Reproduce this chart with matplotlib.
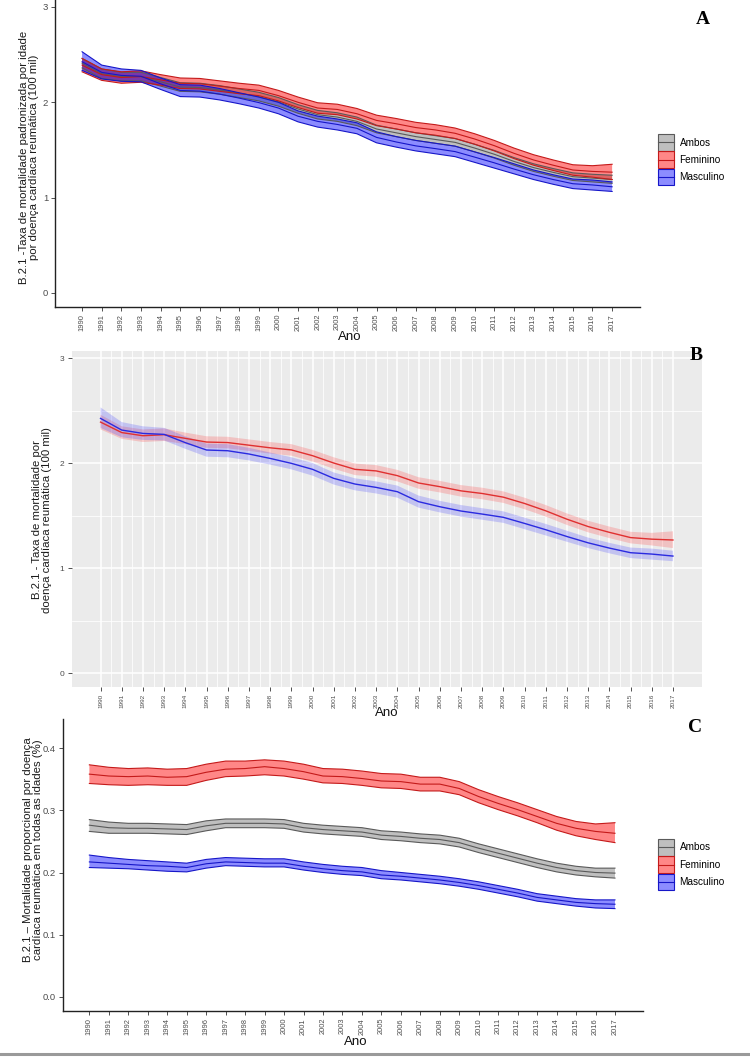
import matplotlib
matplotlib.use("Agg")
import matplotlib.pyplot as plt
from matplotlib.patches import Patch, Rectangle
from matplotlib.lines import Line2D
from matplotlib.legend_handler import HandlerBase

# ---------------- data ----------------
years = list(range(1990, 2018))
year_labels = [str(y) for y in years]
series_names = ["Ambos", "Feminino", "Masculino"]

# Panels A/B: age-standardised rheumatic heart disease mortality (per 100 mil)
amb_rate = [2.41, 2.30, 2.27, 2.27, 2.215, 2.16, 2.155, 2.13, 2.095, 2.06, 2.005, 1.93, 1.87, 1.845,
            1.80, 1.72, 1.68, 1.64, 1.61, 1.58, 1.52, 1.455, 1.38, 1.315, 1.265, 1.22, 1.205, 1.19]
amb_rate_lo = [2.36, 2.25, 2.225, 2.225, 2.17, 2.115, 2.11, 2.085, 2.05, 2.015, 1.96, 1.885, 1.825, 1.80,
               1.755, 1.68, 1.64, 1.60, 1.57, 1.54, 1.48, 1.415, 1.34, 1.275, 1.225, 1.18, 1.165, 1.15]
amb_rate_hi = [2.46, 2.35, 2.315, 2.315, 2.26, 2.205, 2.20, 2.175, 2.14, 2.105, 2.05, 1.975, 1.915, 1.89,
               1.845, 1.76, 1.72, 1.68, 1.65, 1.62, 1.56, 1.495, 1.42, 1.355, 1.305, 1.26, 1.245, 1.235]

fem_rate = [2.39, 2.29, 2.26, 2.27, 2.235, 2.20, 2.195, 2.17, 2.145, 2.125, 2.07, 2.00, 1.94, 1.925,
            1.88, 1.81, 1.775, 1.735, 1.71, 1.675, 1.615, 1.545, 1.465, 1.395, 1.34, 1.29, 1.275, 1.267]
fem_rate_lo = [2.32, 2.23, 2.20, 2.21, 2.18, 2.145, 2.14, 2.115, 2.09, 2.07, 2.015, 1.945, 1.885, 1.87,
               1.825, 1.755, 1.72, 1.68, 1.655, 1.62, 1.56, 1.49, 1.41, 1.34, 1.285, 1.235, 1.215, 1.19]
fem_rate_hi = [2.46, 2.35, 2.32, 2.33, 2.29, 2.255, 2.25, 2.225, 2.20, 2.18, 2.125, 2.055, 1.995, 1.98,
               1.935, 1.865, 1.83, 1.79, 1.765, 1.73, 1.67, 1.60, 1.52, 1.45, 1.395, 1.345, 1.335, 1.35]

mas_rate = [2.425, 2.314, 2.282, 2.273, 2.194, 2.124, 2.117, 2.086, 2.044, 1.997, 1.94, 1.854, 1.80, 1.768,
            1.727, 1.632, 1.584, 1.543, 1.514, 1.483, 1.425, 1.365, 1.30, 1.24, 1.19, 1.146, 1.133, 1.114]
mas_rate_lo = [2.335, 2.245, 2.22, 2.215, 2.135, 2.06, 2.055, 2.025, 1.985, 1.94, 1.88, 1.795, 1.74, 1.71,
               1.67, 1.575, 1.53, 1.49, 1.46, 1.43, 1.37, 1.31, 1.25, 1.19, 1.14, 1.095, 1.08, 1.065]
mas_rate_hi = [2.53, 2.39, 2.35, 2.335, 2.255, 2.185, 2.18, 2.145, 2.10, 2.055, 2.0, 1.91, 1.855, 1.825,
               1.785, 1.69, 1.64, 1.60, 1.57, 1.54, 1.48, 1.42, 1.355, 1.29, 1.24, 1.195, 1.185, 1.165]

# Panel C: proportional mortality (%)
amb_prop = [0.276, 0.272, 0.271, 0.271, 0.270, 0.269, 0.275, 0.279, 0.279, 0.279, 0.278, 0.272, 0.269, 0.267,
            0.265, 0.260, 0.258, 0.255, 0.253, 0.248, 0.239, 0.231, 0.223, 0.215, 0.208, 0.203, 0.200, 0.199]
amb_prop_lo = [0.266, 0.263, 0.263, 0.263, 0.262, 0.261, 0.267, 0.272, 0.272, 0.272, 0.271, 0.265, 0.262, 0.260,
               0.258, 0.253, 0.251, 0.248, 0.246, 0.241, 0.232, 0.224, 0.216, 0.208, 0.201, 0.196, 0.193, 0.191]
amb_prop_hi = [0.285, 0.281, 0.279, 0.279, 0.278, 0.277, 0.283, 0.286, 0.286, 0.286, 0.285, 0.279, 0.276, 0.274,
               0.272, 0.267, 0.265, 0.262, 0.260, 0.255, 0.246, 0.238, 0.230, 0.222, 0.215, 0.210, 0.207, 0.207]

fem_prop = [0.358, 0.355, 0.354, 0.355, 0.353, 0.354, 0.361, 0.366, 0.367, 0.370, 0.367, 0.362, 0.355, 0.354,
            0.351, 0.347, 0.346, 0.342, 0.342, 0.335, 0.322, 0.311, 0.301, 0.290, 0.279, 0.271, 0.266, 0.263]
fem_prop_lo = [0.343, 0.341, 0.340, 0.341, 0.340, 0.340, 0.348, 0.354, 0.355, 0.357, 0.355, 0.350, 0.344, 0.343,
               0.340, 0.336, 0.335, 0.331, 0.331, 0.325, 0.312, 0.301, 0.291, 0.280, 0.268, 0.259, 0.253, 0.248]
fem_prop_hi = [0.373, 0.369, 0.367, 0.368, 0.366, 0.367, 0.374, 0.379, 0.379, 0.381, 0.379, 0.374, 0.367, 0.366,
               0.363, 0.359, 0.358, 0.353, 0.353, 0.346, 0.333, 0.322, 0.312, 0.301, 0.290, 0.282, 0.278, 0.280]

mas_prop = [0.217, 0.215, 0.213, 0.211, 0.210, 0.208, 0.214, 0.217, 0.216, 0.215, 0.215, 0.210, 0.206, 0.203,
            0.201, 0.196, 0.194, 0.191, 0.188, 0.184, 0.179, 0.173, 0.167, 0.160, 0.156, 0.152, 0.150, 0.149]
mas_prop_lo = [0.208, 0.207, 0.206, 0.204, 0.202, 0.201, 0.207, 0.211, 0.210, 0.209, 0.209, 0.204, 0.200, 0.197,
               0.195, 0.190, 0.188, 0.185, 0.182, 0.178, 0.173, 0.167, 0.161, 0.154, 0.150, 0.146, 0.143, 0.142]
mas_prop_hi = [0.228, 0.224, 0.221, 0.219, 0.217, 0.215, 0.221, 0.224, 0.223, 0.222, 0.222, 0.217, 0.213, 0.210,
               0.208, 0.203, 0.200, 0.197, 0.194, 0.190, 0.185, 0.179, 0.173, 0.166, 0.162, 0.158, 0.156, 0.156]

# ---------------- style ----------------
W, H = 750, 1057
NARROW = ["Liberation Sans Narrow", "Liberation Sans", "DejaVu Sans"]
SANS = ["Liberation Sans", "DejaVu Sans"]
SERIF = ["Liberation Serif", "DejaVu Serif"]

line_cols = {"Ambos": "#5a5a5a", "Feminino": "#c41a1a", "Masculino": "#1616c8"}
fill_rgba = {"Ambos": (0.5, 0.5, 0.5, 0.5), "Feminino": (1, 0, 0, 0.47), "Masculino": (0, 0, 1, 0.45)}

fig = plt.figure(figsize=(W / 100, H / 100), dpi=100)


def add_ax(left, top, right, bottom):
    return fig.add_axes([left / W, 1 - bottom / H, (right - left) / W, (bottom - top) / H])


def fx(px):
    return px / W


def fy(py):
    return 1 - py / H


class RibbonKey(HandlerBase):
    """Legend key: filled box with outline and a centre line (like ggplot ribbon+line)."""
    def create_artists(self, legend, orig_handle, xdescent, ydescent, width, height, fontsize, trans):
        fc = orig_handle.get_facecolor()
        ec = orig_handle.get_edgecolor()
        r = Rectangle((-xdescent, -ydescent), width, height, facecolor=fc, edgecolor=ec,
                      lw=0.8, transform=trans)
        ln = Line2D([-xdescent, -xdescent + width], [-ydescent + height / 2] * 2,
                    color=ec, lw=0.8, transform=trans)
        return [r, ln]


def classic_axes(ax, yticks, yfmt):
    for s in ("top", "right"):
        ax.spines[s].set_visible(False)
    for s in ("left", "bottom"):
        ax.spines[s].set_color("#222222")
        ax.spines[s].set_linewidth(1.0)
    ax.set_xticks(years)
    ax.set_xticklabels(year_labels, rotation=90, fontsize=5.4, family=NARROW, color="#4d4d4d")
    ax.set_yticks(yticks)
    ax.set_yticklabels([yfmt.format(v) for v in yticks], fontsize=6.8, family=NARROW, color="#4d4d4d")
    ax.tick_params(length=3, width=0.6, color="#333333", pad=2)


def ribbon_panel(ax, data):
    for name, (mean, lo, hi) in zip(series_names, data):
        ax.fill_between(years, lo, hi, facecolor=fill_rgba[name], lw=0)
        ax.plot(years, lo, color=line_cols[name], lw=0.8)
        ax.plot(years, hi, color=line_cols[name], lw=0.8)
        ax.plot(years, mean, color=line_cols[name], lw=0.8)


def add_legend(top_px):
    handles = [Patch(facecolor=fill_rgba[n], edgecolor=line_cols[n]) for n in series_names]
    fig.legend(handles, series_names, loc="upper left", bbox_to_anchor=(fx(658), fy(top_px)),
               frameon=False, borderpad=0, borderaxespad=0, handlelength=1.55, handleheight=2.2,
               labelspacing=0.05, handletextpad=0.6,
               handler_map={Patch: RibbonKey()},
               prop={"family": NARROW, "size": 7.2})

# ---------------- Panel A ----------------
axA = add_ax(55, 0, 640, 307)
ribbon_panel(axA, [(amb_rate, amb_rate_lo, amb_rate_hi),
                   (fem_rate, fem_rate_lo, fem_rate_hi),
                   (mas_rate, mas_rate_lo, mas_rate_hi)])
axA.set_xlim(1988.62, 2018.42)
axA.set_ylim(-0.147, 3.073)
classic_axes(axA, [0, 1, 2, 3], "{:d}")
add_legend(134)
fig.text(fx(29), fy(157), "B.2.1 -Taxa de mortalidade padronizada por idade\npor doença cardíaca reumática (100 mil)",
         rotation=90, ha="center", va="center", fontsize=8.2, family=SANS, color="#1a1a1a", linespacing=1.1)
fig.text(fx(350), fy(337), "Ano", ha="center", va="center", fontsize=9.5, family=NARROW, color="#111111")
fig.text(fx(703), fy(20), "A", ha="center", va="center", fontsize=14, family=SERIF, weight="bold")

# ---------------- Panel B ----------------
axB = add_ax(71.5, 351, 702, 687)
axB.set_facecolor("#ebebeb")
for s in axB.spines.values():
    s.set_visible(False)
axB.fill_between(years, fem_rate_lo, fem_rate_hi, facecolor=(1, 0.2, 0.2, 0.22), lw=0)
axB.fill_between(years, mas_rate_lo, mas_rate_hi, facecolor=(0.2, 0.2, 1, 0.22), lw=0)
axB.plot(years, fem_rate, color="#e03030", lw=1.0)
axB.plot(years, mas_rate, color="#2a2ae0", lw=1.0)
axB.set_xlim(1988.63, 2018.37)
axB.set_ylim(-0.133, 3.067)
axB.set_xticks(years)
axB.set_xticks([y + 0.5 for y in years[:-1]], minor=True)
axB.set_yticks([0, 1, 2, 3])
axB.set_yticks([0.5, 1.5, 2.5], minor=True)
axB.set_xticklabels(year_labels, rotation=90, fontsize=4.6, family=NARROW, color="#4d4d4d")
axB.set_yticklabels(["0", "1", "2", "3"], fontsize=6.0, family=NARROW, color="#4d4d4d")
axB.tick_params(which="major", length=3, width=0.6, color="#333333", pad=2)
axB.tick_params(which="minor", length=0)
axB.grid(which="major", color="white", lw=1.1)
axB.grid(which="minor", color="white", lw=0.55)
axB.set_axisbelow(True)
fig.text(fx(42), fy(520), "B.2.1 - Taxa de mortalidade por\ndoença cardíaca reumática (100 mil)",
         rotation=90, ha="center", va="center", fontsize=8.2, family=SANS, color="#1a1a1a", linespacing=1.1)
fig.text(fx(387), fy(713), "Ano", ha="center", va="center", fontsize=9.5, family=NARROW, color="#111111")
fig.text(fx(696), fy(355), "B", ha="center", va="center", fontsize=14, family=SERIF, weight="bold")

# ---------------- Panel C ----------------
axC = add_ax(62.7, 719, 643, 1011)
ribbon_panel(axC, [(amb_prop, amb_prop_lo, amb_prop_hi),
                   (fem_prop, fem_prop_lo, fem_prop_hi),
                   (mas_prop, mas_prop_lo, mas_prop_hi)])
axC.set_xlim(1988.63, 2018.44)
axC.set_ylim(-0.0225, 0.4466)
classic_axes(axC, [0.0, 0.1, 0.2, 0.3, 0.4], "{:.1f}")
add_legend(839)
fig.text(fx(33), fy(850), "B.2.1 – Mortalidade proporcional por doença\ncardíaca reumática em todas as idades (%)",
         rotation=90, ha="center", va="center", fontsize=8.2, family=SANS, color="#1a1a1a", linespacing=1.1)
fig.text(fx(356), fy(1042), "Ano", ha="center", va="center", fontsize=9.5, family=NARROW, color="#111111")
fig.text(fx(695), fy(727), "C", ha="center", va="center", fontsize=14, family=SERIF, weight="bold")

# bottom border line
fig.add_artist(Line2D([0, 1], [fy(1054), fy(1054)], transform=fig.transFigure, color="#9a9a9a", lw=2.2))

fig.savefig("out.png", dpi=100)
